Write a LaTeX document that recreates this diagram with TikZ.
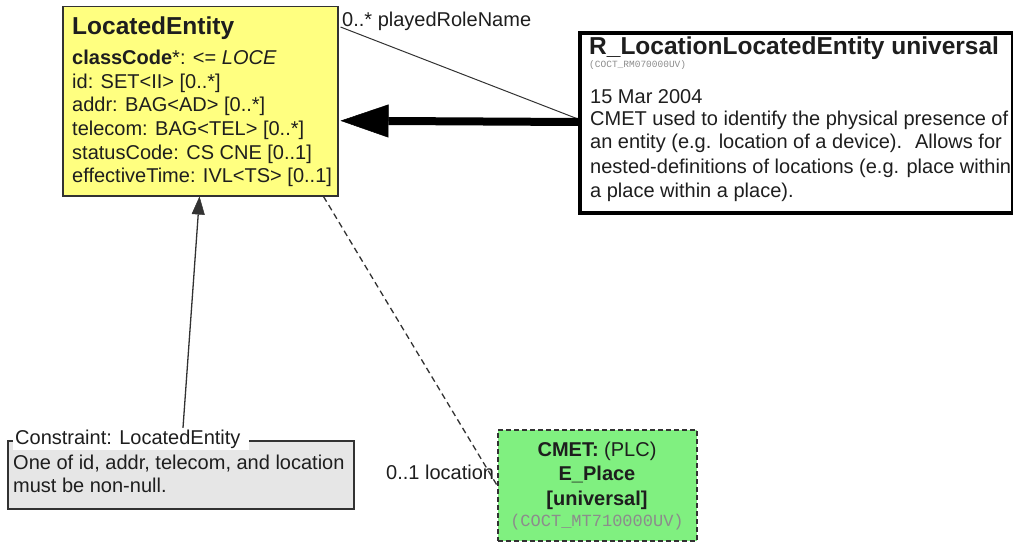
\documentclass[tikz,border=0pt]{standalone}
\usepackage{fontspec}
\setmainfont{Liberation Sans}
\newfontfamily\codefont{Liberation Mono}
\usetikzlibrary{arrows.meta}
\definecolor{umlyellow}{RGB}{255,255,128}
\definecolor{umlgreen}{RGB}{128,240,128}
\definecolor{umlgray}{RGB}{230,230,230}
\definecolor{ink}{RGB}{30,30,30}
\definecolor{codegray}{RGB}{140,140,140}
\definecolor{edgec}{RGB}{50,50,50}
\begin{document}
\begin{tikzpicture}[x=1pt,y=-1pt,
  box/.style={draw=edgec, line width=1.5pt, inner sep=0pt, anchor=north west},
  txt/.style={anchor=base west, inner sep=0pt, text=ink, font=\fontsize{20}{24}\selectfont},
  ctxt/.style={anchor=base, inner sep=0pt, text=ink, font=\fontsize{20}{24}\selectfont},
  ttl/.style={anchor=base west, inner sep=0pt, text=ink, font=\fontsize{24.5}{30}\selectfont\bfseries},
  code/.style={inner sep=0pt, text=codegray},
  conn/.style={draw=edgec, line width=1.3pt},
]
\useasboundingbox (0,0) rectangle (1013,543);

% LocatedEntity class
\node[box, fill=umlyellow, minimum width=275pt, minimum height=189pt] (le) at (62,6) {};
\node[ttl] (leT) at (72,35) {LocatedEntity};
\node[txt] (le1) at (72,65) {\textbf{classCode}*: <= \textit{LOCE}};
\node[txt] (le2) at (72,88.5) {id: SET<II> [0..*]};
\node[txt] (le3) at (72,112) {addr: BAG<AD> [0..*]};
\node[txt] (le4) at (72,135.5) {telecom: BAG<TEL> [0..*]};
\node[txt] (le5) at (72,159) {statusCode: CS CNE [0..1]};
\node[txt] (le6) at (72,182.5) {effectiveTime: IVL<TS> [0..1]};

% R_LocationLocatedEntity header box
\node[box, draw=black, line width=4pt, fill=white, minimum width=433pt, minimum height=180pt] (rb) at (578,31) {};
\node[ttl] (rbT) at (589,55) {R\_LocationLocatedEntity universal};
\node[code, anchor=base west, font=\codefont\fontsize{9.5}{11}\selectfont] (rbC) at (589,67) {(COCT\_RM070000UV)};
\node[txt] (rb0) at (590,103) {15 Mar 2004};
\node[txt] (rb1) at (590,125) {CMET used to identify the physical presence of};
\node[txt] (rb2) at (590,149) {an entity (e.g. location of a device).~ Allows for};
\node[txt] (rb3) at (590,173) {nested-definitions of locations (e.g. place within};
\node[txt] (rb4) at (590,197) {a place within a place).};

% Constraint note
\node[box, fill=umlgray, minimum width=346pt, minimum height=68pt] (cb) at (7,440) {};
\node[fill=white, anchor=base west, inner xsep=2pt, inner ysep=1.5pt, text=ink, font=\fontsize{20}{24}\selectfont] (ct) at (13,444) {Constraint: LocatedEntity\hspace*{6pt}};
\node[txt] (cb1) at (13,469) {One of id, addr, telecom, and location};
\node[txt] (cb2) at (13,492) {must be non-null.};

% E_Place CMET
\node[box, fill=umlgreen, dash pattern=on 5pt off 3pt, minimum width=199pt, minimum height=111pt] (ep) at (497,429) {};
\node[ctxt] (ep1) at (597,456) {\textbf{CMET:} (PLC)};
\node[ctxt] (ep2) at (597,480) {\textbf{E\_Place}};
\node[ctxt] (ep3) at (597,505) {\textbf{[universal]}};
\node[code, anchor=base, font=\codefont\fontsize{17}{20}\selectfont] (epC) at (597,526) {(COCT\_MT710000UV)};

% labels
\node[txt] (lbl1) at (342,27) {0..* playedRoleName};
\node[txt] (lbl2) at (386,479) {0..1 location};

% connectors
\draw[conn, line width=1pt] ([xshift=2pt,yshift=-21pt]le.north east) -- ([yshift=4pt]rb.west);
\draw[black, line width=8pt, -{Triangle[length=48pt,width=33pt,line width=0.5pt]}] ([yshift=1pt]rb.west) -- ([xshift=2pt,yshift=-19.5pt]le.east);
\draw[conn, -{Triangle[length=18pt,width=13pt,line width=0.5pt]}] ([xshift=170pt]ct.north west) -- ([xshift=-139pt]le.south east);
\draw[conn, dash pattern=on 6pt off 4pt] ([xshift=-15pt]le.south east) -- (ep.west);
\end{tikzpicture}
\end{document}
